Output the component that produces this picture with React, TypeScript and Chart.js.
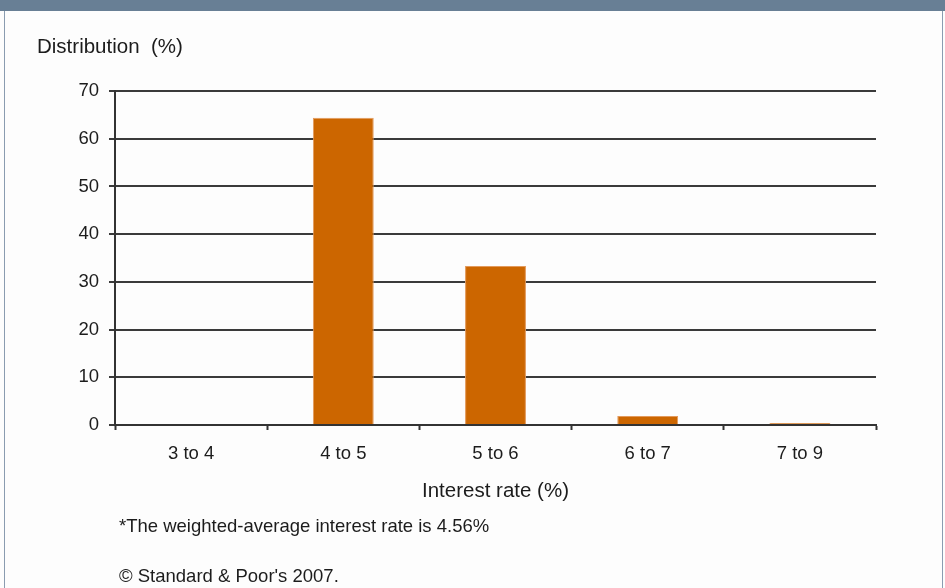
import React, { useEffect, useRef } from "react";
import { Chart, registerables } from "chart.js";

Chart.register(...registerables);

const categories = ["3 to 4", "4 to 5", "5 to 6", "6 to 7", "7 to 9"];
const distribution = [0, 64.4, 33.3, 1.9, 0.4];
const yTicks = [0, 10, 20, 30, 40, 50, 60, 70];

const FONT = "'Liberation Sans', Arial, sans-serif";
const INK = "#1c1c1c";

export default function App() {
  const ref = useRef<HTMLCanvasElement | null>(null);

  useEffect(() => {
    document.body.style.margin = "0";
    const ctx = ref.current!;
    const chart = new Chart(ctx, {
      type: "bar",
      data: {
        labels: categories,
        datasets: [
          {
            data: distribution,
            backgroundColor: "#cc6600",
            borderColor: "#e39a5c",
            borderWidth: 1,
            barPercentage: 0.4,
            categoryPercentage: 1,
          },
        ],
      },
      options: {
        animation: false,
        responsive: false,
        maintainAspectRatio: false,
        layout: { padding: { left: 0, top: 91, right: 69, bottom: 84 } },
        plugins: { legend: { display: false }, tooltip: { enabled: false } },
        scales: {
          x: {
            offset: true,
            grid: {
              offset: true,
              drawOnChartArea: false,
              drawTicks: true,
              tickLength: 5,
              tickWidth: 2,
              color: "#333",
            },
            border: { color: "#333", width: 2 },
            ticks: { color: INK, font: { family: FONT, size: 18.5 }, padding: 13 },
            title: {
              display: true,
              text: "Interest rate (%)",
              color: INK,
              font: { family: FONT, size: 20.5 },
              padding: 0,
            },
            afterFit: (s: any) => {
              s.height = 79;
            },
          },
          y: {
            min: 0,
            max: 70,
            afterBuildTicks: (s: any) => {
              s.ticks = yTicks.map((v) => ({ value: v }));
            },
            grid: { color: "#3a3a3a", tickLength: 6, lineWidth: 2 },
            border: { color: "#333", width: 2 },
            ticks: { color: INK, font: { family: FONT, size: 18.5 }, padding: 10 },
            afterFit: (s: any) => {
              s.width = 115;
            },
          },
        },
      },
    });
    return () => chart.destroy();
  }, []);

  const text: React.CSSProperties = {
    position: "absolute",
    fontFamily: FONT,
    color: INK,
    whiteSpace: "nowrap",
    lineHeight: "24px",
  };

  return (
    <div style={{ position: "relative", width: 945, height: 588, background: "#fdfdfd", overflow: "hidden" }}>
      <div style={{ position: "absolute", left: 0, top: 0, width: 945, height: 11, background: "#687f95" }} />
      <div style={{ position: "absolute", left: 4, top: 11, width: 1, height: 577, background: "#8a9cb0" }} />
      <div style={{ position: "absolute", left: 942, top: 11, width: 1, height: 577, background: "#8a9cb0" }} />
      <canvas ref={ref} width={945} height={588} style={{ position: "absolute", left: 0, top: 0 }} />
      <div style={{ ...text, left: 37, top: 34, fontSize: 20.5 }}>Distribution&nbsp; (%)</div>
      <div style={{ ...text, left: 119, top: 514, fontSize: 18.5 }}>*The weighted-average interest rate is 4.56%</div>
      <div style={{ ...text, left: 119, top: 564, fontSize: 18.5 }}>© Standard &amp; Poor's 2007.</div>
    </div>
  );
}
